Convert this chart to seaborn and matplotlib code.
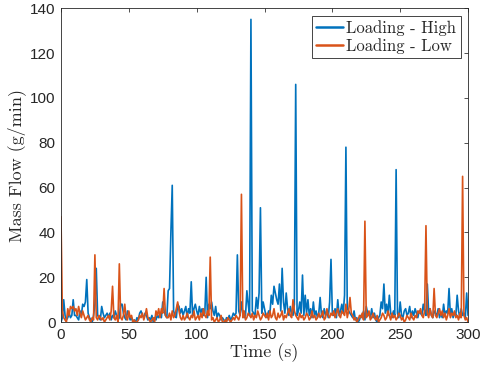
import seaborn as sns
import matplotlib.pyplot as plt
import numpy as np
import pandas as pd

# Mass flow sampled every second, 0..300 s
time_s = np.arange(0, 301)

loading_high = [
    0, 2, 10, 3, 1, 2, 4, 2, 3, 10,
    3, 3, 2, 1, 5, 3, 8, 7, 9, 19,
    4, 2, 1, 0, 3, 8, 24, 3, 2, 1,
    7, 4, 2, 3, 4, 2, 4, 1, 3, 2,
    5, 3, 1, 2, 8, 8, 4, 2, 1, 5,
    3, 1, 2, 0, 1, 0, 2, 1, 4, 5,
    3, 2, 4, 3, 1, 2, 1, 3, 0, 2,
    1, 3, 2, 4, 2, 9, 5, 3, 2, 14,
    15, 40, 61, 5, 3, 2, 8, 7, 4, 6,
    3, 5, 7, 2, 6, 4, 18, 3, 6, 8,
    5, 3, 7, 4, 6, 3, 4, 20, 2, 8,
    6, 9, 5, 3, 7, 2, 4, 3, 1, 2,
    1, 0, 2, 1, 3, 1, 2, 4, 3, 4,
    30, 5, 3, 9, 4, 2, 3, 14, 8, 3,
    135, 5, 4, 3, 11, 6, 13, 51, 4, 9,
    6, 3, 2, 5, 4, 12, 8, 16, 13, 10,
    8, 17, 5, 24, 9, 4, 13, 6, 3, 7,
    4, 3, 8, 106, 3, 5, 9, 4, 21, 3,
    12, 4, 10, 3, 6, 2, 9, 3, 5, 2,
    4, 11, 3, 2, 6, 3, 5, 2, 9, 28,
    4, 3, 6, 2, 10, 3, 5, 8, 4, 12,
    78, 6, 5, 4, 3, 2, 5, 1, 2, 0,
    1, 3, 2, 5, 1, 7, 4, 3, 2, 6,
    2, 4, 1, 0, 2, 3, 9, 6, 17, 4,
    8, 3, 12, 4, 2, 5, 3, 68, 4, 2,
    9, 3, 2, 5, 6, 3, 4, 7, 2, 5,
    3, 6, 4, 2, 5, 4, 3, 8, 5, 3,
    17, 4, 6, 3, 2, 5, 4, 3, 6, 2,
    4, 2, 8, 3, 5, 4, 15, 3, 6, 2,
    4, 3, 12, 5, 2, 6, 3, 4, 2, 13,
    3,
]

loading_low = [
    47, 5, 2, 1, 0, 6, 3, 7, 6, 7,
    5, 6, 3, 7, 4, 2, 5, 3, 1, 2,
    3, 1, 0, 2, 1, 30, 2, 1, 3, 2,
    1, 2, 0, 1, 2, 3, 1, 5, 16, 2,
    1, 3, 0, 26, 2, 1, 3, 8, 2, 1,
    5, 2, 3, 0, 1, 0, 0, 1, 3, 2,
    4, 1, 3, 6, 2, 1, 0, 1, 2, 0,
    5, 3, 6, 2, 6, 4, 15, 3, 2, 2,
    4, 1, 5, 2, 3, 6, 9, 5, 2, 1,
    3, 1, 2, 4, 2, 1, 3, 2, 5, 1,
    2, 3, 1, 4, 2, 6, 3, 2, 5, 3,
    29, 1, 2, 0, 1, 2, 0, 1, 3, 0,
    0, 1, 0, 2, 1, 0, 1, 2, 1, 3,
    2, 1, 3, 57, 2, 5, 1, 2, 4, 3,
    2, 4, 1, 3, 2, 5, 3, 1, 2, 4,
    3, 2, 4, 1, 5, 2, 3, 6, 2, 1,
    4, 2, 3, 5, 1, 3, 2, 4, 6, 3,
    2, 10, 5, 3, 2, 1, 4, 2, 3, 1,
    2, 4, 3, 1, 2, 5, 2, 3, 1, 2,
    4, 2, 3, 5, 1, 2, 6, 3, 2, 4,
    3, 5, 2, 4, 6, 3, 2, 5, 4, 3,
    8, 2, 5, 11, 4, 3, 1, 2, 0, 1,
    3, 2, 4, 1, 45, 2, 3, 5, 1, 2,
    4, 2, 1, 3, 0, 1, 2, 4, 3, 1,
    2, 5, 3, 1, 4, 2, 3, 1, 2, 4,
    3, 1, 2, 0, 1, 3, 2, 1, 4, 2,
    1, 3, 2, 5, 4, 6, 3, 2, 5, 43,
    4, 2, 6, 3, 2, 15, 3, 2, 4, 6,
    3, 5, 2, 4, 1, 3, 6, 2, 4, 3,
    5, 2, 3, 1, 4, 2, 65, 3, 1, 2,
    0,
]

series_names = ["Loading - High", "Loading - Low"]
colors = ["#0072BD", "#D95319"]

df = pd.DataFrame({
    "Time": np.concatenate([time_s, time_s]),
    "Flow": loading_high + loading_low,
    "Series": [series_names[0]] * len(time_s) + [series_names[1]] * len(time_s),
})

sns.set_style("white")
serif = ["cmr10", "DejaVu Serif"]
plt.rcParams["font.family"] = ["Liberation Sans", "DejaVu Sans"]

fig = plt.figure(figsize=(4.84, 3.72), dpi=100)
ax = fig.add_axes([0.126, 0.134, 0.841, 0.844])

sns.lineplot(data=df, x="Time", y="Flow", hue="Series", palette=colors,
             linewidth=1.2, ax=ax)

ax.set_xlim(0, 300)
ax.set_ylim(0, 140)
ax.set_xticks(range(0, 301, 50))
ax.set_yticks(range(0, 141, 20))
ax.tick_params(direction="in", length=3, top=True, right=True,
               labelsize=11, color="#333333", width=0.6, pad=4)
for s in ax.spines.values():
    s.set_color("#262626")
    s.set_linewidth(0.6)

ax.set_xlabel("Time (s)", family=serif, fontsize=13, labelpad=1)
ax.set_ylabel("Mass Flow (g/min)", family=serif, fontsize=13, labelpad=3)

leg = ax.legend(loc="upper right", prop={"family": serif, "size": 12},
                handlelength=1.6, handletextpad=0.2, borderpad=0.25,
                labelspacing=0.15, fancybox=False, framealpha=1,
                borderaxespad=0.45)
leg.get_frame().set_edgecolor("#262626")
leg.get_frame().set_linewidth(0.6)
for line in leg.get_lines():
    line.set_linewidth(1.8)

fig.savefig("out.png", dpi=100)
